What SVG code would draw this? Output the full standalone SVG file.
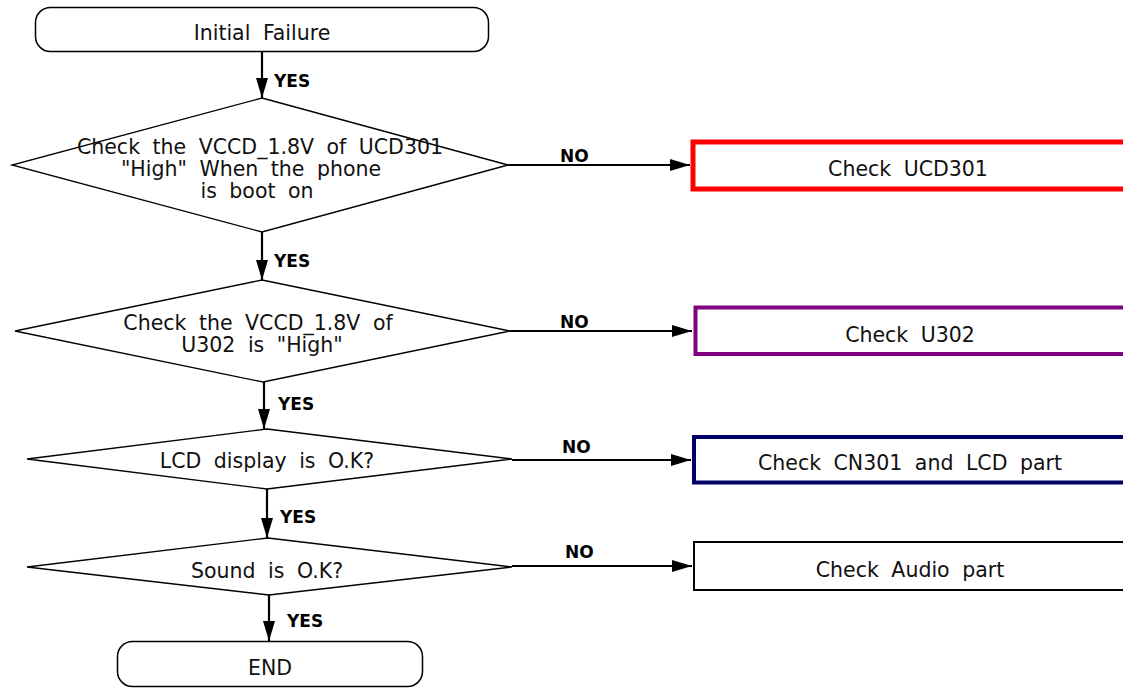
<svg xmlns="http://www.w3.org/2000/svg" width="1123" height="688" viewBox="0 0 1123 688">
<style>
.t{font-family:"DejaVu Sans",Verdana,sans-serif;font-size:20.5px;word-spacing:6px;fill:#111;text-anchor:middle}
.lb{font-family:"DejaVu Sans",Verdana,sans-serif;font-size:17px;font-weight:bold;fill:#000}
.term{fill:#fff;stroke:#000;stroke-width:1.5}
.dia{fill:#fff;stroke:#000;stroke-width:1.3}
.conn{fill:none;stroke:#000;stroke-width:2.2;marker-end:url(#ah)}
</style>
<defs>
<marker id="ah" markerUnits="userSpaceOnUse" markerWidth="20" markerHeight="12" refX="20" refY="6" orient="auto" viewBox="0 0 20 12">
<path d="M0,0 L20,6 L0,12 z" fill="#000"/>
</marker>
</defs>
<rect width="1123" height="688" fill="#fff"/>
<g id="connectors">
<line class="conn" x1="262" y1="52" x2="262" y2="98"/>
<line class="conn" x1="262" y1="232" x2="262" y2="280"/>
<line class="conn" x1="264" y1="382" x2="264" y2="429"/>
<line class="conn" x1="267" y1="489" x2="267" y2="538"/>
<line class="conn" x1="269" y1="595" x2="269" y2="641"/>
<line class="conn" x1="508" y1="165" x2="690" y2="165"/>
<line class="conn" x1="510" y1="331" x2="692" y2="331"/>
<line class="conn" x1="512" y1="460" x2="691" y2="460"/>
<line class="conn" x1="512" y1="566" x2="692" y2="566"/>
<text class="lb" x="274" y="87">YES</text>
<text class="lb" x="274" y="267">YES</text>
<text class="lb" x="278" y="410">YES</text>
<text class="lb" x="280" y="523">YES</text>
<text class="lb" x="287" y="627">YES</text>
<text class="lb" x="560" y="162">NO</text>
<text class="lb" x="560" y="328">NO</text>
<text class="lb" x="562" y="453">NO</text>
<text class="lb" x="565" y="558">NO</text>
</g>
<g id="start">
<rect class="term" x="35.5" y="7.5" width="453" height="44" rx="15"/>
<text class="t" x="262" y="40">Initial Failure</text>
</g>
<g id="d1">
<polygon class="dia" points="262,98 508,165 262,232 12,165"/>
<text class="t" x="260" y="154">Check the VCCD_1.8V of UCD301</text>
<text class="t" x="251" y="176">"High" When the phone</text>
<text class="t" x="257" y="198">is boot on</text>
</g>
<g id="d2">
<polygon class="dia" points="262,280 510,331 263,382 15,331"/>
<text class="t" x="258" y="330">Check the VCCD_1.8V of</text>
<text class="t" x="262" y="352">U302 is "High"</text>
</g>
<g id="d3">
<polygon class="dia" points="267,429 512,459 267,489 27,459"/>
<text class="t" x="267" y="468">LCD display is O.K?</text>
</g>
<g id="d4">
<polygon class="dia" points="268,538 512,567 269,595 27,567"/>
<text class="t" x="267" y="578">Sound is O.K?</text>
</g>
<g id="end">
<rect class="term" x="117.5" y="641.5" width="305" height="45" rx="15"/>
<text class="t" x="270" y="675">END</text>
</g>
<g id="b1">
<rect x="693" y="142" width="460" height="47" fill="#fff" stroke="#ff0000" stroke-width="5"/>
<text class="t" x="908" y="176">Check UCD301</text>
</g>
<g id="b2">
<rect x="695.5" y="307.5" width="460" height="46.5" fill="#fff" stroke="#800080" stroke-width="4"/>
<text class="t" x="910" y="342">Check U302</text>
</g>
<g id="b3">
<rect x="694" y="437" width="460" height="45.5" fill="#fff" stroke="#000066" stroke-width="4"/>
<text class="t" x="910" y="470">Check CN301 and LCD part</text>
</g>
<g id="b4">
<rect x="694" y="542" width="460" height="48" fill="#fff" stroke="#000" stroke-width="2"/>
<text class="t" x="910" y="577">Check Audio part</text>
</g>
</svg>
